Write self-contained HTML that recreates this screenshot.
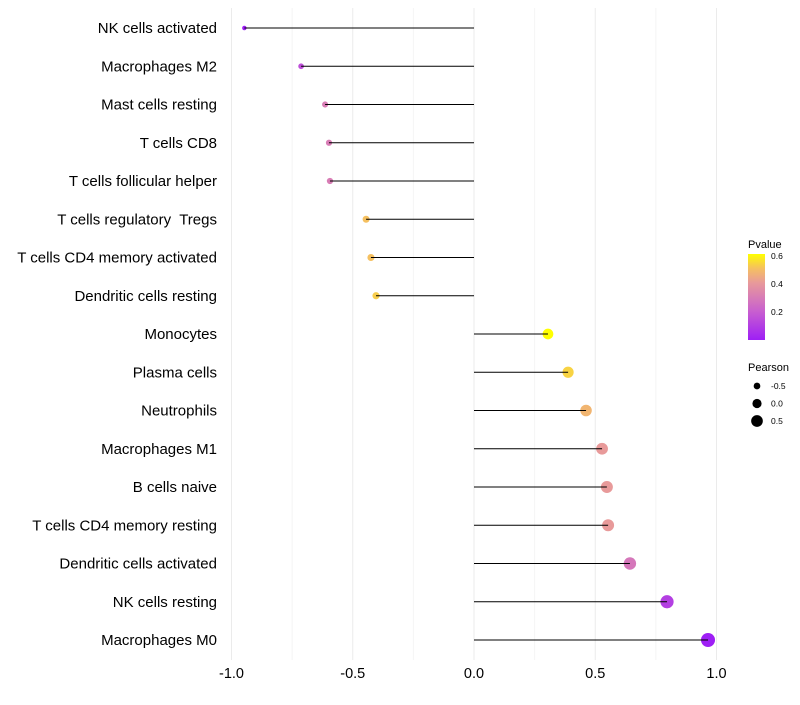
<!DOCTYPE html>
<html><head><meta charset="utf-8"><style>
body{margin:0;background:#fff;font-family:"Liberation Sans",sans-serif}
text{white-space:pre}
</style></head><body>
<svg id="c" width="800" height="700" xmlns="http://www.w3.org/2000/svg"></svg>
<script>
const categories=["NK cells activated","Macrophages M2","Mast cells resting","T cells CD8","T cells follicular helper","T cells regulatory  Tregs","T cells CD4 memory activated","Dendritic cells resting","Monocytes","Plasma cells","Neutrophils","Macrophages M1","B cells naive","T cells CD4 memory resting","Dendritic cells activated","NK cells resting","Macrophages M0"];
const pearson=[-0.947,-0.713,-0.614,-0.598,-0.594,-0.445,-0.425,-0.404,0.305,0.388,0.462,0.528,0.548,0.553,0.643,0.796,0.965];
const pvalue=[0.0,0.15,0.3,0.3,0.3,0.5,0.5,0.52,0.6,0.53,0.47,0.4,0.4,0.4,0.28,0.1,0.0];
const xTicks=[-1,-0.5,0,0.5,1];
const xTickLabels=["-1.0","-0.5","0.0","0.5","1.0"];
const pTicks=[0.2,0.4,0.6];
const sizeTicks=[-0.5,0,0.5];

const svg=document.getElementById('c');
const NS="http://www.w3.org/2000/svg";
const X=v=>474+v*242.5;
const Y=i=>28+i*38.25;
const R=v=>4.6+2.5*v;
const stops=[[0,[158,31,245]],[0.2,[200,95,207]],[0.4,[232,154,154]],[0.5,[245,192,96]],[0.6,[255,255,0]]];
function col(p){for(let k=1;k<stops.length;k++){if(p<=stops[k][0]||k==stops.length-1){const a=stops[k-1],b=stops[k];let t=Math.max(0,Math.min(1,(p-a[0])/(b[0]-a[0])));return 'rgb('+a[1].map((c,j)=>Math.round(c+(b[1][j]-c)*t)).join(',')+')';}}}
function el(t,a,txt){const e=document.createElementNS(NS,t);for(const k in a)e.setAttribute(k,a[k]);if(txt!=null)e.textContent=txt;svg.appendChild(e);return e;}

for(let v=-1;v<=1.001;v+=0.25){
 const g=el('line',{x1:X(v),x2:X(v),y1:8,y2:660,stroke:Math.abs(v*2-Math.round(v*2))<0.01?'#ebebeb':'#f4f4f4','stroke-width':1});
 
 
}
xTicks.forEach((v,i)=>{
 const t=el('text',{x:X(v),y:678,'text-anchor':'middle','font-size':14.5,fill:'#000'},xTickLabels[i]);
 
 
});
categories.forEach((c,i)=>{
 const t=el('text',{x:217,y:Y(i)+5,'text-anchor':'end','font-size':15,fill:'#000'},c);
 
 
 const d=el('circle',{cx:X(pearson[i]),cy:Y(i),r:R(pearson[i]),fill:col(pvalue[i])});
 
 
 const l=el('line',{x1:X(0),x2:X(pearson[i]),y1:Y(i),y2:Y(i),stroke:'#000','stroke-width':1});
 
 
});
const defs=el('defs',{});
const lg=document.createElementNS(NS,'linearGradient');lg.setAttribute('id','pg');lg.setAttribute('x1',0);lg.setAttribute('y1',1);lg.setAttribute('x2',0);lg.setAttribute('y2',0);
defs.appendChild(lg);
for(let p=0;p<=0.6001;p+=0.05){const s=document.createElementNS(NS,'stop');s.setAttribute('offset',p/0.6);s.setAttribute('stop-color',col(p));lg.appendChild(s);}
const t1=el('text',{x:748,y:248,'font-size':11},'Pvalue');


const cb=el('rect',{x:748,y:254,width:17,height:86,fill:'url(#pg)'});


pTicks.forEach(p=>{const y=340-p*140;
 const t=el('text',{x:771,y:y+3,'font-size':8.5},p.toFixed(1));
 
 
});
const t2=el('text',{x:748,y:371,'font-size':11},'Pearson');


sizeTicks.forEach((v,i)=>{const y=386+i*17.5;
 const c=el('circle',{cx:757,cy:y,r:R(v),fill:'#000'});
 
 
 const t=el('text',{x:771,y:y+3,'font-size':8.5},v.toFixed(1));
 
 
});
</script>
</body></html>
